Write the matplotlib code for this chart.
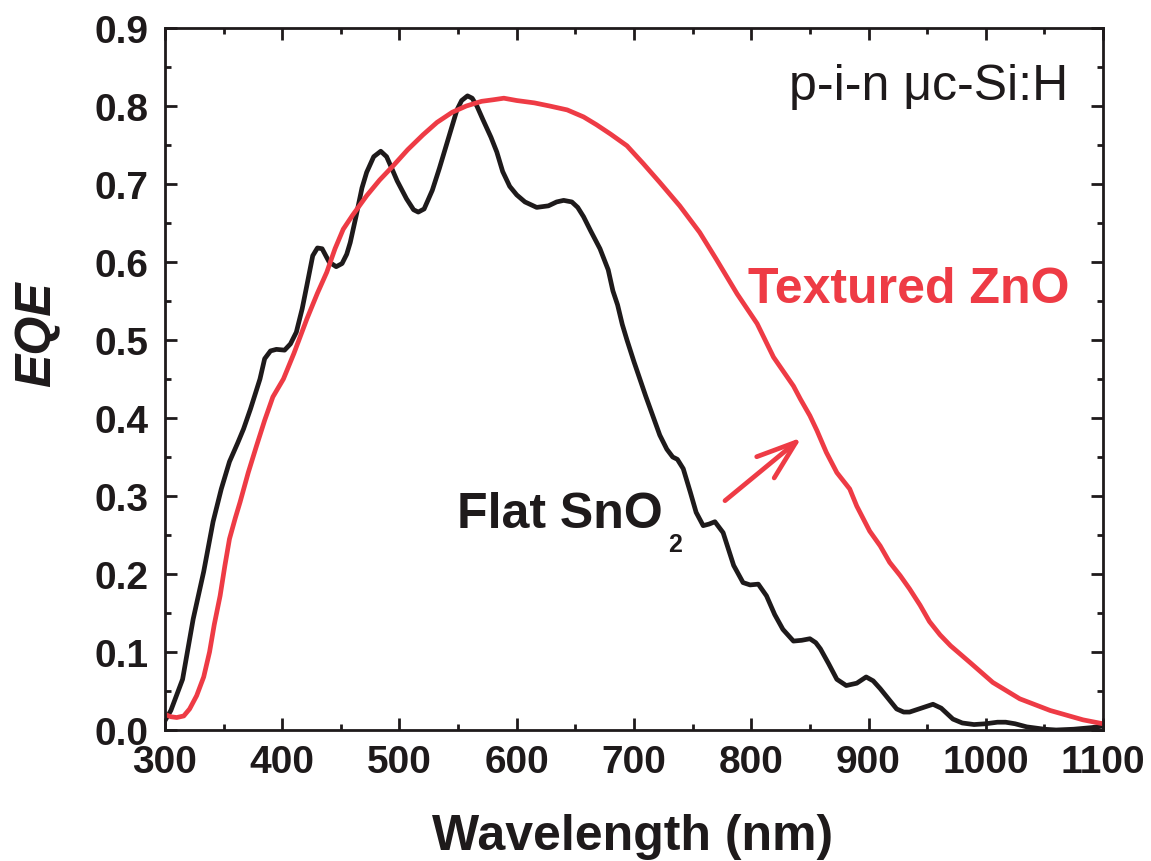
import matplotlib
matplotlib.use("Agg")
import matplotlib.pyplot as plt
from matplotlib.ticker import MultipleLocator, FormatStrFormatter

# Flat SnO2 substrate (black)
flat_wl = [300, 305, 315, 324, 333, 341, 348, 355, 362, 367, 373, 381, 385, 390,
           395, 402, 407, 412, 417, 421, 426, 430, 434, 440, 446, 451, 455, 458,
           463, 468, 472, 478, 484, 489, 494, 498, 506, 512, 516, 521, 528, 534,
           540, 545, 549, 553, 558, 562, 566, 571, 578, 583, 588, 594, 600, 607,
           617, 627, 634, 640, 647, 652, 657, 663, 671, 678, 682, 686, 690, 694,
           700, 705, 710, 716, 722, 728, 733, 737, 742, 748, 753, 759, 764, 769,
           776, 785, 793, 799, 806, 813, 820, 827, 836, 843, 850, 855, 859, 866,
           873, 881, 890, 898, 904, 910, 917, 924, 930, 935, 945, 955, 962, 972,
           980, 990, 1000, 1010, 1017, 1025, 1035, 1050, 1060, 1075, 1090, 1100]
flat_eqe = [0.012, 0.025, 0.065, 0.142, 0.203, 0.267, 0.309, 0.344, 0.368, 0.386,
            0.412, 0.450, 0.476, 0.486, 0.488, 0.487, 0.495, 0.510, 0.540, 0.570,
            0.608, 0.618, 0.617, 0.600, 0.594, 0.598, 0.610, 0.625, 0.659, 0.695,
            0.715, 0.735, 0.742, 0.735, 0.718, 0.704, 0.681, 0.667, 0.664, 0.668,
            0.692, 0.720, 0.750, 0.775, 0.795, 0.807, 0.813, 0.810, 0.800, 0.783,
            0.760, 0.741, 0.716, 0.697, 0.686, 0.677, 0.670, 0.672, 0.677, 0.679,
            0.677, 0.670, 0.658, 0.640, 0.617, 0.590, 0.563, 0.545, 0.520, 0.500,
            0.472, 0.450, 0.428, 0.403, 0.378, 0.360, 0.350, 0.347, 0.335, 0.305,
            0.279, 0.262, 0.264, 0.267, 0.253, 0.211, 0.189, 0.186, 0.187, 0.172,
            0.148, 0.129, 0.114, 0.115, 0.117, 0.112, 0.104, 0.085, 0.065, 0.057,
            0.060, 0.068, 0.063, 0.053, 0.040, 0.027, 0.023, 0.023, 0.028, 0.033,
            0.028, 0.014, 0.009, 0.007, 0.008, 0.010, 0.010, 0.008, 0.004, 0.001,
            0.000, 0.001, 0.003, 0.005]

# Textured ZnO substrate (red)
tex_wl = [300, 305, 310, 316, 321, 327, 333, 338, 342, 347, 351, 355, 360, 364,
          371, 378, 385, 392, 401, 410, 421, 430, 438, 445, 452, 460, 472, 483,
          495, 507, 520, 532, 545, 557, 570, 580, 589, 600, 615, 628, 643, 657,
          668, 680, 694, 708, 722, 739, 756, 770, 788, 805, 819, 836, 842, 850,
          856, 864, 873, 884, 890, 901, 910, 918, 927, 935, 944, 952, 961, 970,
          987, 1006, 1029, 1055, 1083, 1100]
tex_eqe = [0.020, 0.017, 0.016, 0.018, 0.027, 0.044, 0.068, 0.100, 0.135, 0.172,
           0.210, 0.245, 0.272, 0.292, 0.330, 0.364, 0.397, 0.427, 0.450, 0.483,
           0.527, 0.560, 0.587, 0.617, 0.642, 0.660, 0.685, 0.705, 0.724, 0.744,
           0.763, 0.779, 0.792, 0.800, 0.806, 0.808, 0.810, 0.807, 0.804, 0.800,
           0.795, 0.786, 0.776, 0.764, 0.749, 0.726, 0.702, 0.672, 0.638, 0.604,
           0.559, 0.521, 0.478, 0.441, 0.424, 0.403, 0.384, 0.356, 0.330, 0.309,
           0.287, 0.255, 0.236, 0.215, 0.198, 0.181, 0.160, 0.139, 0.122, 0.108,
           0.086, 0.061, 0.040, 0.025, 0.013, 0.008]

x_ticks = [300, 400, 500, 600, 700, 800, 900, 1000, 1100]
y_ticks = [0.0, 0.1, 0.2, 0.3, 0.4, 0.5, 0.6, 0.7, 0.8, 0.9]

RED = "#EE3B45"
BLACK = "#1E1A1B"

plt.rcParams["font.family"] = ["Liberation Sans", "DejaVu Sans"]
plt.rcParams["font.weight"] = "bold"

fig = plt.figure(figsize=(11.51, 8.62), dpi=100)
ax = fig.add_axes([0.14335, 0.15197, 0.81495, 0.81439])

ax.plot(flat_wl, flat_eqe, color=BLACK, lw=3.4, solid_joinstyle="round",
        solid_capstyle="round")
ax.plot(tex_wl, tex_eqe, color=RED, lw=3.4, solid_joinstyle="round",
        solid_capstyle="round")

ax.set_xlim(300, 1100)
ax.set_ylim(0.0, 0.9)
ax.set_xticks(x_ticks)
ax.set_yticks(y_ticks)
ax.xaxis.set_minor_locator(MultipleLocator(50))
ax.yaxis.set_minor_locator(MultipleLocator(0.05))
ax.yaxis.set_major_formatter(FormatStrFormatter("%.1f"))

for sp in ax.spines.values():
    sp.set_linewidth(2.0)
    sp.set_color(BLACK)

ax.tick_params(which="both", direction="in", top=True, right=True,
               width=2.0, color=BLACK)
ax.tick_params(which="major", length=8.6, labelsize=28, labelcolor=BLACK)
ax.tick_params(which="minor", length=4.3)
ax.tick_params(axis="x", which="major", pad=10)
ax.tick_params(axis="y", which="major", pad=12)
for lab in ax.get_xticklabels() + ax.get_yticklabels():
    lab.set_fontweight("bold")

# Axis titles
fig.text(632.5 / 1151, 1 - 850 / 862, "Wavelength (nm)", ha="center",
         va="baseline", fontsize=36, fontweight="bold", color=BLACK)
fig.text(37.5 / 1151, 1 - 334 / 862, "EQE", rotation=90, ha="center",
         va="center", fontsize=36, fontweight="bold", fontstyle="italic",
         color=BLACK)

# Annotations
ax.text(1070, 0.809, "p-i-n \u03bcc-Si:H", ha="right", va="baseline",
        fontsize=36, fontweight="normal", color=BLACK)
ax.text(797, 0.549, "Textured ZnO", ha="left", va="baseline",
        fontsize=36, fontweight="bold", color=RED)
ax.text(548.8, 0.260, "Flat SnO", ha="left", va="baseline",
        fontsize=36, fontweight="bold", color=BLACK)
ax.text(729, 0.230, "2", ha="left", va="baseline",
        fontsize=18, fontweight="bold", color=BLACK)

ax.annotate("", xy=(843, 0.375), xytext=(777.6, 0.294),
            arrowprops=dict(arrowstyle="->,head_length=28.6,head_width=9.9",
                            mutation_scale=1, color=RED, lw=3.4,
                            shrinkA=0, shrinkB=0, capstyle="round"))

fig.savefig("out.png", dpi=100, facecolor="white")
